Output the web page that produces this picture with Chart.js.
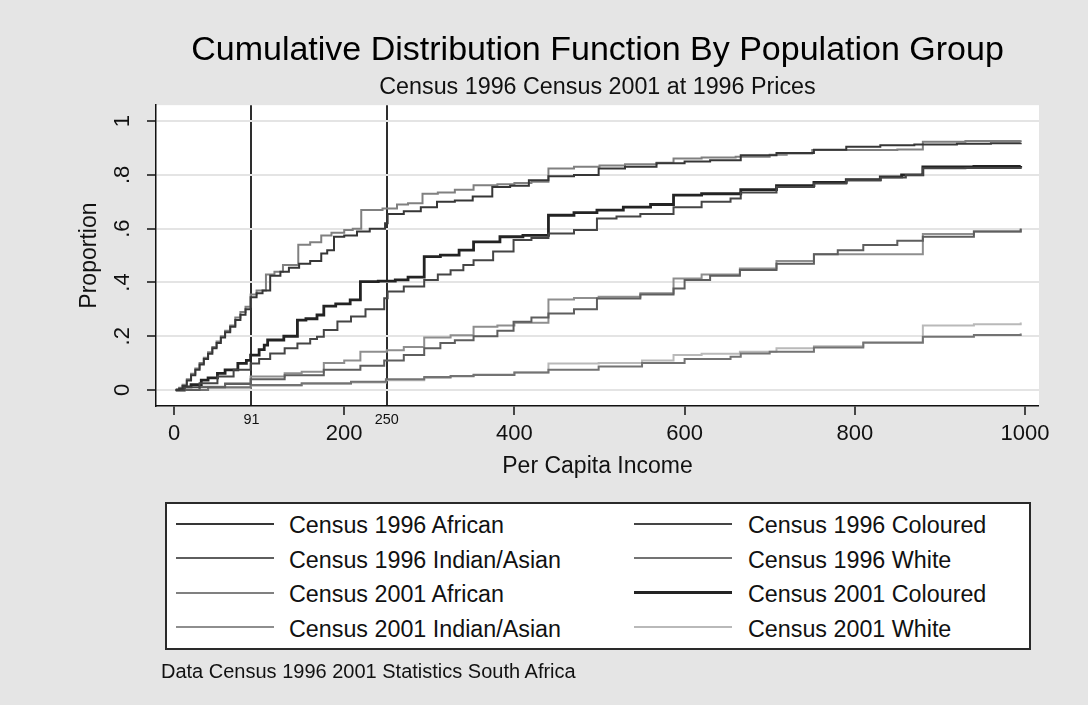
<!DOCTYPE html>
<html><head><meta charset="utf-8">
<script src="https://cdn.jsdelivr.net/npm/chart.js@4/dist/chart.umd.min.js"></script>
<style>
html,body{margin:0;padding:0;background:#e5e5e5;}
#wrap{position:relative;width:1088px;height:705px;overflow:hidden;font-family:"Liberation Sans",Arial,sans-serif;}
#c{position:absolute;left:0;top:0;}
#legend{position:absolute;left:165px;top:502px;width:862px;height:144px;border:2px solid #2a2a2a;background:#fff;}
.sw{position:absolute;width:98px;}
.lbl{position:absolute;font-size:23.3px;color:#111;white-space:nowrap;line-height:30px;}
#foot{position:absolute;left:161px;top:659px;font-size:20px;color:#111;line-height:24px;white-space:nowrap;}
</style></head>
<body>
<div id="wrap">
<canvas id="c" width="1088" height="705"></canvas>
<div id="legend"></div>
<div id="foot">Data Census 1996 2001 Statistics South Africa</div>
</div>
<script>
// ---------- data ----------
const seriesLabels = ['Census 1996 African','Census 1996 Coloured','Census 1996 Indian/Asian','Census 1996 White',
                      'Census 2001 African','Census 2001 Coloured','Census 2001 Indian/Asian','Census 2001 White'];

const afr96X = [2,6,10,15,20,25,30,35,40,45,50,55,60,66,72,78,84,90,97,104,113,125,135,147,160,173,180,188,200,215,230,248,251,270,290,309,330,351,374,395,417,440,470,499,530,567,600,630,666,708,752,790,830,870,920,960,995];
const afr96Y = [0,.005,.015,.035,.055,.075,.095,.115,.135,.155,.175,.195,.215,.235,.26,.28,.30,.345,.36,.37,.425,.44,.455,.47,.48,.508,.52,.57,.575,.59,.60,.62,.655,.665,.68,.70,.705,.72,.755,.76,.78,.795,.80,.824,.83,.843,.85,.855,.873,.882,.894,.905,.91,.913,.916,.918,.92];

const col96X = [2,12,30,51,70,90,100,113,130,145,160,168,176,192,208,225,247,251,270,294,310,325,340,352,375,399,420,440,470,497,520,548,587,620,654,666,708,752,790,830,860,880,930,995];
const col96Y = [0,.01,.025,.05,.075,.099,.115,.136,.155,.173,.19,.198,.223,.255,.273,.30,.341,.366,.385,.409,.43,.445,.465,.483,.515,.558,.565,.582,.595,.638,.645,.655,.68,.70,.712,.735,.755,.768,.78,.79,.80,.825,.826,.827];

const ind96X = [2,30,60,90,130,176,219,247,270,294,313,330,352,380,399,420,440,470,497,548,587,600,630,665,708,752,780,810,850,880,940,995];
const ind96Y = [0,.01,.022,.04,.055,.075,.09,.11,.13,.155,.175,.185,.20,.22,.254,.27,.285,.30,.34,.355,.378,.409,.425,.446,.47,.505,.52,.539,.555,.57,.59,.601];

const wht96X = [2,40,90,150,208,249,294,325,352,400,440,499,550,600,654,666,700,752,810,880,940,995];
const wht96Y = [0,.01,.019,.025,.031,.04,.048,.052,.056,.065,.075,.087,.10,.115,.124,.136,.142,.158,.177,.198,.205,.21];

const afr01X = [2,6,10,15,20,25,30,35,40,45,50,55,60,66,72,78,84,90,97,108,118,128,146,160,173,185,200,210,220,245,262,275,292,310,330,352,380,400,420,440,470,500,530,567,587,620,660,700,720,750,800,850,880,930,995];
const afr01Y = [0,.008,.02,.04,.06,.08,.10,.12,.14,.16,.18,.20,.22,.24,.27,.29,.31,.355,.37,.43,.44,.465,.54,.55,.575,.585,.595,.60,.67,.675,.69,.695,.73,.735,.745,.762,.765,.77,.775,.824,.83,.835,.84,.845,.861,.865,.868,.875,.88,.893,.893,.895,.923,.926,.929];

const col01X = [2,12,20,32,40,51,60,75,85,90,100,106,110,129,145,155,168,176,190,207,219,240,260,275,294,313,335,352,383,410,440,470,497,528,560,587,620,666,708,752,790,830,855,880,940,995];
const col01Y = [0,.012,.02,.037,.045,.062,.075,.099,.11,.13,.15,.167,.186,.20,.26,.265,.279,.312,.32,.335,.403,.405,.41,.42,.496,.502,.52,.551,.57,.575,.65,.66,.669,.68,.69,.725,.73,.745,.76,.772,.782,.793,.80,.83,.832,.833];

const ind01X = [2,30,60,90,130,150,176,200,219,250,270,294,325,352,380,400,440,470,499,548,587,620,665,708,752,800,880,940,995];
const ind01Y = [0,.012,.025,.05,.062,.068,.10,.11,.1425,.148,.16,.195,.204,.235,.24,.25,.337,.342,.347,.36,.415,.43,.452,.48,.505,.505,.58,.59,.598];

const wht01X = [2,40,90,150,208,249,294,325,352,400,440,499,550,587,620,665,708,752,810,880,940,995];
const wht01Y = [0,.008,.016,.022,.028,.036,.045,.05,.058,.065,.099,.10,.11,.13,.135,.1425,.155,.163,.175,.24,.245,.251];

const xTickValues = [0,200,400,600,800,1000];
const markerLines = [91,250];
const yTickValues = [0,.2,.4,.6,.8,1];
const yTickLabels = ['0','.2','.4','.6','.8','1'];

// ---------- styles ----------
const FONT = '"Liberation Sans", Arial, sans-serif';
const seriesColors = ['#363636','#454545','#5e5e5e','#737373','#808080','#232323','#8e8e8e','#b9b9b9'];
const seriesWidths = [2,2,2,2,2,2.8,2,2];
const xs = [afr96X,col96X,ind96X,wht96X,afr01X,col01X,ind01X,wht01X];
const ys = [afr96Y,col96Y,ind96Y,wht96Y,afr01Y,col01Y,ind01Y,wht01Y];

const datasets = seriesLabels.map((lab,i)=>({
  label: lab,
  data: xs[i].map((x,j)=>({x:x, y:ys[i][j]})),
  borderColor: seriesColors[i],
  backgroundColor: seriesColors[i],
  borderWidth: seriesWidths[i],
  pointRadius: 0,
  stepped: true,
  fill: false
}));

const X_MIN = -21.2, X_MAX = 1016.5, Y_MIN = -0.0595, Y_MAX = 1.0595;
const isMarker = ctx => !!(ctx && ctx.tick && markerLines.includes(ctx.tick.value));

const plotBg = {
  id: 'plotBg',
  beforeDraw(chart){
    const {ctx, chartArea:a} = chart;
    ctx.save(); ctx.fillStyle = '#ffffff';
    ctx.fillRect(a.left, a.top, a.right-a.left, a.bottom-a.top);
    ctx.restore();
  }
};

const chart = new Chart(document.getElementById('c'), {
  type: 'line',
  data: { datasets },
  options: {
    responsive: false,
    animation: false,
    events: [],
    layout: { padding: { left: 70, right: 49, top: 0, bottom: 225 } },
    plugins: {
      legend: { display: false },
      tooltip: { enabled: false },
      title: { display: true, text: 'Cumulative Distribution Function By Population Group',
               font: { family: FONT, size: 34, weight: 'normal' }, color: '#000',
               padding: { top: 30, bottom: 0 }, fullSize: false },
      subtitle: { display: true, text: 'Census 1996 Census 2001 at 1996 Prices',
               font: { family: FONT, size: 23.3, weight: 'normal' }, color: '#111',
               padding: { top: 3.2, bottom: 3.2 }, fullSize: false }
    },
    scales: {
      x: {
        type: 'linear', position: 'bottom', min: X_MIN, max: X_MAX,
        afterBuildTicks: s => { s.ticks = xTickValues.concat(markerLines).sort((a,b)=>a-b).map(v=>({value:v})); },
        afterFit: s => { s.height = 74; },
        ticks: {
          font: ctx => isMarker(ctx) ? { family: FONT, size: 14.4, lineHeight: 0.64 }
                                     : { family: FONT, size: 22, lineHeight: 0.582 },
          color: '#111', padding: 0, autoSkip: false, maxRotation: 0,
          callback: v => markerLines.includes(v) ? String(v) : ['', String(v)]
        },
        grid: {
          drawOnChartArea: true, drawTicks: true, tickLength: 9,
          color: ctx => isMarker(ctx) ? '#2e2e2e' : 'rgba(0,0,0,0)',
          lineWidth: ctx => isMarker(ctx) ? 2 : 0,
          tickColor: ctx => isMarker(ctx) ? 'rgba(0,0,0,0)' : '#111',
          tickWidth: ctx => isMarker(ctx) ? 0 : 1.5
        },
        border: { display: true, color: '#111', width: 1.5 },
        title: { display: true, text: 'Per Capita Income', font: { family: FONT, size: 23 }, color: '#111',
                 padding: { top: 0, bottom: 0 } }
      },
      y: {
        type: 'linear', position: 'left', min: Y_MIN, max: Y_MAX,
        afterBuildTicks: s => { s.ticks = yTickValues.map(v=>({value:v})); },
        afterFit: s => { s.width = 86; },
        ticks: { font: { family: FONT, size: 22 }, color: '#111', padding: 14.8, autoSkip: false,
                 minRotation: 90, maxRotation: 90, crossAlign: 'center',
                 callback: (v,i) => yTickLabels[i] },
        grid: { color: '#e4e4e4', lineWidth: 2, tickLength: 9, tickColor: '#111', tickWidth: 1.5 },
        border: { display: true, color: '#111', width: 1.5 },
        title: { display: true, text: 'Proportion', font: { family: FONT, size: 23 }, color: '#111',
                 padding: { top: 6, bottom: 0 } }
      }
    }
  },
  plugins: [plotBg]
});

// ---------- HTML legend built from the chart's datasets ----------
const legendEl = document.getElementById('legend');
const rowY0 = 21, rowStep = 34.5;
chart.data.datasets.forEach((ds,i)=>{
  const row = Math.floor(i/2), col = i%2;
  const cy = rowY0 + row*rowStep;
  const sw = document.createElement('div');
  sw.className = 'sw';
  sw.style.left = (col ? 467 : 9) + 'px';
  sw.style.top = (cy - 1.5 - ds.borderWidth/2) + 'px';
  sw.style.height = ds.borderWidth + 'px';
  sw.style.background = ds.borderColor;
  legendEl.appendChild(sw);
  const lb = document.createElement('div');
  lb.className = 'lbl';
  lb.style.left = (col ? 581 : 122) + 'px';
  lb.style.top = (cy - 15) + 'px';
  lb.textContent = ds.label;
  legendEl.appendChild(lb);
});
</script>
</body></html>
